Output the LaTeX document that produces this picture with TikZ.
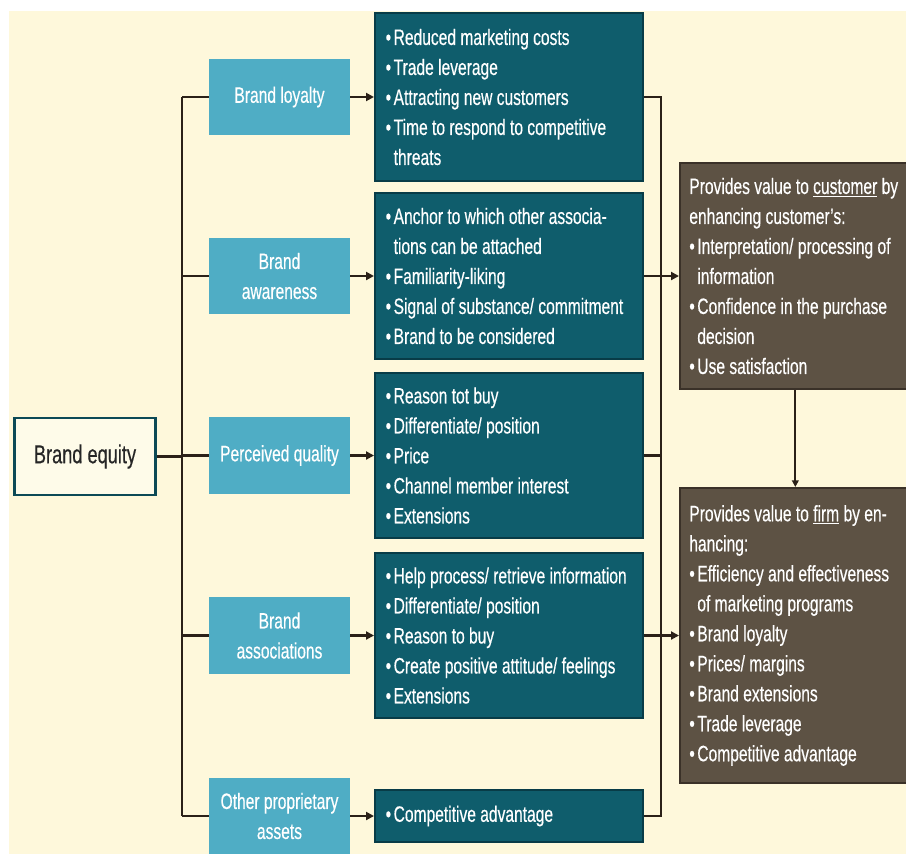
\documentclass[tikz,border=0pt]{standalone}
\usepackage{fontspec}
\setmainfont[FakeStretch=0.70,FakeBold=0.4]{Liberation Sans}
\usepackage{xcolor}
\usepackage{tikz}
\usetikzlibrary{arrows.meta,positioning}

\definecolor{creambg}{HTML}{FEF8DB}
\definecolor{lteal}{HTML}{4FADC5}
\definecolor{dteal}{HTML}{0F5D6C}
\definecolor{dtealline}{HTML}{083C47}
\definecolor{brownbx}{HTML}{5D5244}
\definecolor{brownline}{HTML}{3A3128}
\definecolor{linecol}{HTML}{2B2118}

\newcommand{\bl}[1]{\mbox{\makebox[6pt][l]{\textbullet}#1}}
\newcommand{\cl}[1]{\mbox{\hspace*{6pt}#1}}

\begin{document}
\begin{tikzpicture}[x=0.75pt,y=-0.75pt,
  lightbox/.style={fill=lteal,minimum width=105.75pt,minimum height=57.5pt,
                   align=center,text=white,inner sep=2pt,
                   font=\fontsize{16.7}{22.5}\selectfont},
  darkbox/.style={fill=dteal,draw=dtealline,line width=1.5pt,anchor=west,
                  text width=185pt,inner xsep=8pt,minimum height=#1,
                  align=flush left,text=white,font=\fontsize{16.7}{22.5}\selectfont},
  brownbox/.style={fill=brownbx,draw=brownline,line width=1.5pt,anchor=west,
                   text width=159pt,inner xsep=7pt,minimum height=#1,
                   align=flush left,text=white,font=\fontsize{16.7}{22.5}\selectfont},
  conn/.style={draw=linecol,line width=2pt},
  arr/.style={conn,-{Triangle[length=6pt,width=6pt]}}
]
\useasboundingbox (0,0) rectangle (906,854);
\fill[white] (0,0) rectangle (906,854);
\fill[creambg] (9,11) rectangle (906,854);

% root
\node[fill=creambg!60!white,draw=dteal!80!black,line width=1.8pt,
      minimum width=106pt,minimum height=58pt,text=black!85,
      font=\fontsize{19.5}{24}\selectfont] (eq) at (85,456.5) {Brand equity};

% dimensions
\node[lightbox] (l1) at (279.5,97)    {Brand loyalty};
\node[lightbox] (l2) at (279.5,276)   {Brand\\awareness};
\node[lightbox] (l3) at (279.5,455.5) {Perceived quality};
\node[lightbox] (l4) at (279.5,635.5) {Brand\\associations};
\node[lightbox] (l5) at (279.5,816)   {Other proprietary\\assets};

% benefits
\node[darkbox=126pt] (d1) at (374,97)
  {\bl{Reduced marketing costs}\\\bl{Trade leverage}\\\bl{Attracting new customers}\\
   \bl{Time to respond to competitive}\\\cl{threats}};
\node[darkbox=124.5pt] (d2) at (374,276)
  {\bl{Anchor to which other associa-}\\\cl{tions can be attached}\\\bl{Familiarity-liking}\\
   \bl{Signal of substance/ commitment}\\\bl{Brand to be considered}};
\node[darkbox=123.75pt] (d3) at (374,455.5)
  {\bl{Reason tot buy}\\\bl{Differentiate/ position}\\\bl{Price}\\
   \bl{Channel member interest}\\\bl{Extensions}};
\node[darkbox=123.75pt] (d4) at (374,635.5)
  {\bl{Help process/ retrieve information}\\\bl{Differentiate/ position}\\\bl{Reason to buy}\\
   \bl{Create positive attitude/ feelings}\\\bl{Extensions}};
\node[darkbox=39pt] (d5) at (374,816) {\bl{Competitive advantage}};

% value boxes
\node[brownbox=169.5pt] (cust) at (679,276)
  {\mbox{Provides value to \underline{customer} by}\\\mbox{enhancing customer's:}\\
   \bl{Interpretation/ processing of}\\\cl{information}\\
   \bl{Confidence in the purchase}\\\cl{decision}\\\bl{Use satisfaction}};
\node[brownbox=221.25pt] (firm) at (679,635.5)
  {\mbox{Provides value to \underline{firm} by en-}\\\mbox{hancing:}\\
   \bl{Efficiency and effectiveness}\\\cl{of marketing programs}\\
   \bl{Brand loyalty}\\\bl{Prices/ margins}\\\bl{Brand extensions}\\
   \bl{Trade leverage}\\\bl{Competitive advantage}};

% tree on the left
\coordinate (trunk) at (182,0);
\draw[conn] (eq) -- (eq -| trunk);
\draw[conn] (l1 -| trunk) -- (l5 -| trunk);
\foreach \n in {l1,l2,l3,l4,l5}
  \draw[conn] (\n -| trunk) -- (\n);
\foreach \i in {1,...,5}
  \draw[arr] (l\i) -- (d\i);

% rail on the right
\coordinate (rail) at (661,0);
\draw[conn] (d1) -- (d1 -| rail) -- (d5 -| rail) -- (d5);
\draw[conn] (d3) -- (d3 -| rail);
\draw[arr] (d2) -- (cust);
\draw[arr] (d4) -- (firm);
\draw[conn,line width=1.3pt,-{Triangle[length=5pt,width=5pt]}] (cust) -- (firm);
\end{tikzpicture}
\end{document}
